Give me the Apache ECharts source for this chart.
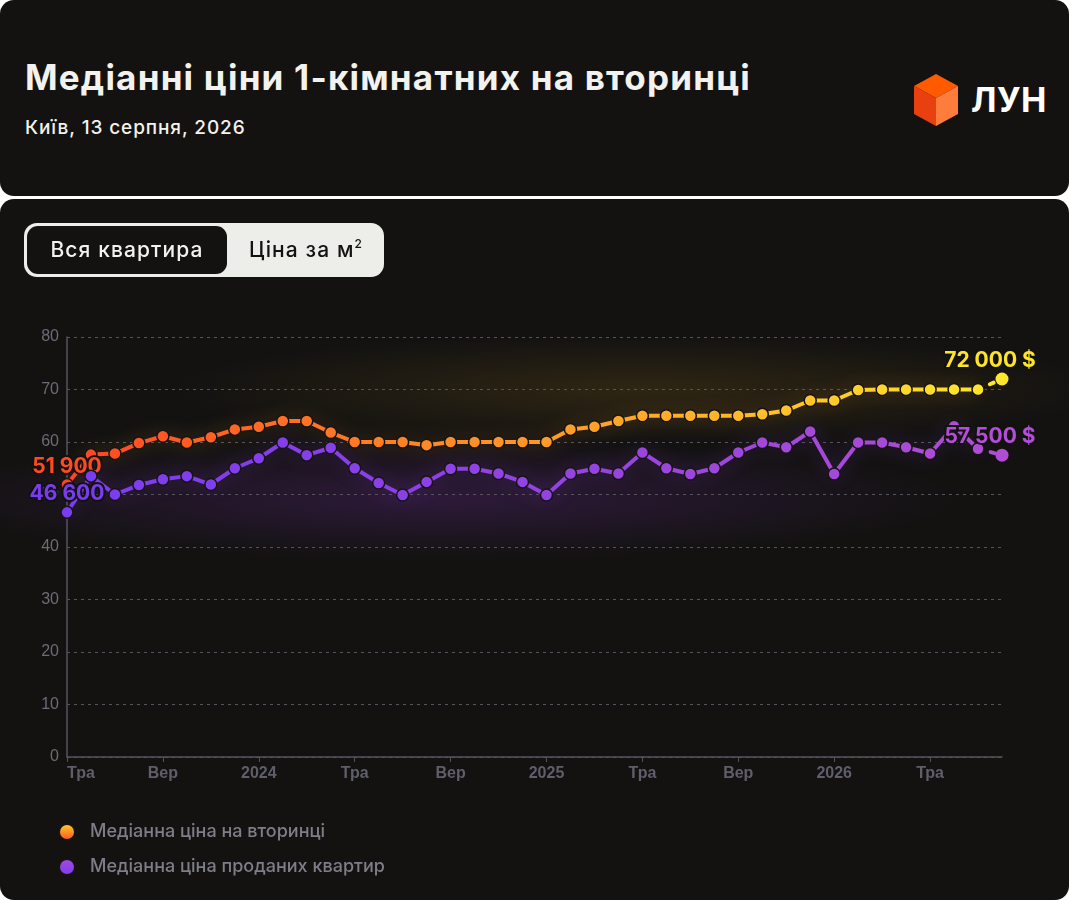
<!DOCTYPE html>
<html>
<head>
<meta charset="utf-8">
<script src="https://cdn.jsdelivr.net/npm/echarts@6/dist/echarts.min.js"></script>
<style>
  html,body{margin:0;padding:0;background:#ffffff;width:1069px;height:900px;overflow:hidden;font-family:Inter,"Noto Sans",sans-serif;}
  .card{position:absolute;left:0;width:1069px;background:#131211;border-radius:14px;overflow:hidden;}
  #top{top:0;height:196px;}
  #bottom{top:199px;height:701px;
    background:
      radial-gradient(ellipse 470px 55px at 640px 190px, rgba(190,140,30,0.16), rgba(190,140,30,0) 100%),
      radial-gradient(ellipse 520px 60px at 440px 300px, rgba(130,50,190,0.24), rgba(130,50,190,0) 100%),
      #131211;}
  #title{position:absolute;left:25px;top:56px;font-size:35px;line-height:42px;font-weight:700;color:#f2f2ee;letter-spacing:1.2px;white-space:nowrap;}
  #sub{position:absolute;left:25px;top:117px;font-size:19px;line-height:22px;font-weight:500;color:#f2f2ee;letter-spacing:0.9px;white-space:nowrap;}
  #logo{position:absolute;left:912px;top:73px;width:48px;height:54px;}
  #logotext{position:absolute;left:971px;top:80px;font-size:34px;line-height:40px;font-weight:700;color:#ffffff;letter-spacing:0.5px;}
  #toggle{position:absolute;left:24px;top:24px;width:360px;height:54px;background:#ededea;border-radius:13px;}
  #t1{position:absolute;left:3px;top:3px;width:200px;height:48px;background:#131211;border-radius:11px;color:#f2f2ee;font-size:21px;line-height:48px;text-align:center;font-weight:500;letter-spacing:1.1px;white-space:nowrap;}
  #t2{position:absolute;left:203px;top:3px;width:157px;height:48px;color:#131211;font-size:21px;line-height:48px;text-align:center;font-weight:500;letter-spacing:1.1px;white-space:nowrap;}
  #t2 sup{font-size:12px;line-height:0;vertical-align:9px;letter-spacing:0;}
  #chart{position:absolute;left:0;top:0;width:1069px;height:701px;}
</style>
</head>
<body>
<div class="card" id="top">
  <div id="title">Медіанні ціни 1-кімнатних на вторинці</div>
  <div id="sub">Київ, 13 серпня, 2026</div>
  <svg id="logo" viewBox="0 0 48 54">
    <polygon points="24,1 46,13 24,25 2,13" fill="#ff5a00"/>
    <polygon points="2,13 24,25 24,53 2,41" fill="#e8400e"/>
    <polygon points="24,25 46,13 46,41 24,53" fill="#ff7d3c"/>
  </svg>
  <div id="logotext">ЛУН</div>
</div>
<div class="card" id="bottom">
  <div id="chart"></div>
  <div id="toggle"><div id="t1">Вся квартира</div><div id="t2">Ціна за м<sup>2</sup></div></div>
</div>
<script>
// Months May 2023 .. Aug 2026
var categories = ['05.2023','06.2023','07.2023','08.2023','09.2023','10.2023','11.2023','12.2023',
  '01.2024','02.2024','03.2024','04.2024','05.2024','06.2024','07.2024','08.2024','09.2024','10.2024','11.2024','12.2024',
  '01.2025','02.2025','03.2025','04.2025','05.2025','06.2025','07.2025','08.2025','09.2025','10.2025','11.2025','12.2025',
  '01.2026','02.2026','03.2026','04.2026','05.2026','06.2026','07.2026','08.2026'];
var xTickLabels = ['Тра','Вер','2024','Тра','Вер','2025','Тра','Вер','2026','Тра'];
var yTicks = [0,10,20,30,40,50,60,70,80];
// thousands of $
var listingPrice = [51.9,57.6,57.8,59.8,61.1,59.9,60.9,62.4,62.9,64.0,64.0,61.8,
  60.0,60.0,60.0,59.4,60.0,60.0,60.0,60.0,60.0,62.4,62.9,64.0,65.0,65.0,65.0,65.0,65.0,65.3,66.0,67.9,
  67.9,69.9,70.0,70.0,70.0,70.0,70.0,72.0];
var soldPrice = [46.6,53.5,50.0,51.8,52.9,53.5,51.9,55.0,56.9,59.9,57.5,58.9,
  55.0,52.2,49.9,52.4,54.9,54.9,54.0,52.4,49.9,54.0,54.9,54.0,58.0,55.0,53.9,55.0,58.0,59.9,59.0,62.0,
  53.9,59.9,59.9,59.0,57.8,63.0,58.7,57.5];
var seriesNames = ['Медіанна ціна на вторинці','Медіанна ціна проданих квартир'];

var N = categories.length;
function solidPart(arr){ return arr.map(function(v,i){ return i < N-1 ? v : '-'; }); }
function tailPart(arr){ return arr.map(function(v,i){ return i >= N-2 ? v : '-'; }); }
function fmt(v){ return String(Math.round(v*1000)).replace(/\B(?=(\d{3})+(?!\d))/g,' '); }

var orangeStops = ['#ff4421','#ff6a26','#ff8a25','#ffa62a','#ffc72a','#ffe82b'];
var purpleStops = ['#7a3cf2','#8a40e6','#9c46dc','#b04dd4'];

var labelBase = {fontFamily:'Inter', fontWeight:700, fontSize:21, textBorderColor:'#131211', textBorderWidth:4, distance:1};

var chart = echarts.init(document.getElementById('chart'), null, {renderer:'canvas'});
chart.setOption({
  backgroundColor:'transparent',
  animation:false,
  grid:{left:67,right:67,top:138,bottom:143,containLabel:false},
  visualMap:[
    {type:'continuous',show:false,dimension:0,min:0,max:N-1,seriesIndex:[0,1],inRange:{color:orangeStops}},
    {type:'continuous',show:false,dimension:0,min:0,max:N-1,seriesIndex:[2,3],inRange:{color:purpleStops}}
  ],
  legend:{
    orient:'vertical',left:53,top:619,itemWidth:16,itemHeight:16,itemGap:17,icon:'circle',
    textStyle:{color:'#7e7d88',fontSize:18,fontFamily:'Inter',fontWeight:500,padding:[0,0,0,10]},
    data:[
      {name:seriesNames[0],itemStyle:{color:new echarts.graphic.LinearGradient(0,0,0,1,[{offset:0,color:'#ffd92a'},{offset:1,color:'#ff4a1f'}])}},
      {name:seriesNames[1],itemStyle:{color:new echarts.graphic.LinearGradient(0,0,0,1,[{offset:0,color:'#a84ae0'},{offset:1,color:'#7a3cf0'}])}}
    ]
  },
  xAxis:{
    type:'category',data:categories,boundaryGap:false,
    axisLine:{show:true,lineStyle:{color:'#55545c',width:1.5}},
    axisTick:{show:true,interval:3,length:5,lineStyle:{color:'#55545c'}},
    axisLabel:{interval:3,color:'#5f5e6b',fontSize:16,fontWeight:700,fontFamily:'Liberation Sans',margin:9,alignMinLabel:'left',
      formatter:function(v,i){ return i%4===0 ? xTickLabels[i/4] : ''; }},
    splitLine:{show:false}
  },
  yAxis:{
    type:'value',min:yTicks[0],max:yTicks[yTicks.length-1],interval:10,
    axisLine:{show:true,lineStyle:{color:'#55545c',width:1.5}},
    axisTick:{show:false},
    axisLabel:{color:'#6c6b76',fontSize:16,fontFamily:'Liberation Sans',margin:8},
    splitLine:{show:true,lineStyle:{color:'#55545c',type:[3,4],width:1}}
  },
  series:[
    {name:seriesNames[0],type:'line',data:solidPart(listingPrice),symbol:'circle',symbolSize:12,z:3,
     lineStyle:{width:4,shadowBlur:18,shadowColor:'rgba(255,160,40,0.35)'},
     itemStyle:{borderColor:'#161514',borderWidth:1.5},
     label:Object.assign({show:true,position:'top',color:'#ff4a22',
       formatter:function(p){ return p.dataIndex===0 ? fmt(p.value) : ''; }},labelBase)},
    {name:seriesNames[0],type:'line',data:tailPart(listingPrice),symbol:'circle',z:3,
     symbolSize:function(v,p){ return p.dataIndex===N-1 ? 13 : 0; },
     lineStyle:{width:4,type:[4,9],cap:'round'},
     itemStyle:{borderWidth:0},
     label:Object.assign({show:true,position:'top',color:'#ffe42a',offset:[-12,0],
       formatter:function(p){ return p.dataIndex===N-1 ? fmt(p.value)+' $' : ''; }},labelBase)},
    {name:seriesNames[1],type:'line',data:solidPart(soldPrice),symbol:'circle',symbolSize:12,z:4,
     lineStyle:{width:4,shadowBlur:18,shadowColor:'rgba(140,60,220,0.4)'},
     itemStyle:{borderColor:'#161514',borderWidth:1.5},
     label:Object.assign({show:true,position:'top',color:'#7a3cf2',
       formatter:function(p){ return p.dataIndex===0 ? fmt(p.value) : ''; }},labelBase)},
    {name:seriesNames[1],type:'line',data:tailPart(soldPrice),symbol:'circle',z:4,
     symbolSize:function(v,p){ return p.dataIndex===N-1 ? 13 : 0; },
     lineStyle:{width:4,type:[4,9],cap:'round'},
     itemStyle:{borderWidth:0},
     label:Object.assign({show:true,position:'top',color:'#b24fd6',offset:[-12,0],
       formatter:function(p){ return p.dataIndex===N-1 ? fmt(p.value)+' $' : ''; }},labelBase)}
  ]
});
</script>
</body>
</html>
